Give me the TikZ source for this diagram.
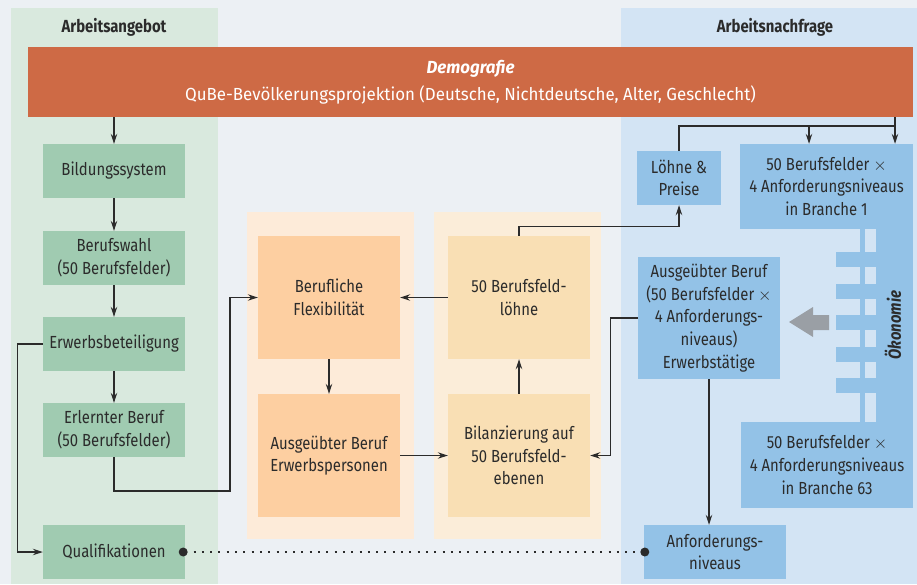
\documentclass[tikz,border=0pt]{standalone}
\usepackage{fontspec}
\setmainfont{Fira Sans}[FakeStretch=0.85]
\newfontfamily\balkenfont{Fira Sans}[FakeStretch=0.965]
\usepackage{tikz}
\usetikzlibrary{arrows.meta}

\definecolor{hgrund}{HTML}{ECF0F4}
\definecolor{gruenfeld}{HTML}{D9E9DE}
\definecolor{gruenbox}{HTML}{A0CBB1}
\definecolor{blaufeld}{HTML}{D3E4F4}
\definecolor{blaubox}{HTML}{93C2E7}
\definecolor{demo}{HTML}{CE6A45}
\definecolor{orafeld}{HTML}{FDEBD9}
\definecolor{orabox}{HTML}{FDCFA1}
\definecolor{gelbfeld}{HTML}{FBEDD9}
\definecolor{gelbbox}{HTML}{F9DFB4}
\definecolor{schrift}{HTML}{2B2B2B}
\definecolor{graupfeil}{HTML}{9A9FA5}

\newcommand{\mal}{\ensuremath{\times}}

\begin{document}
\begin{tikzpicture}[x=1pt, y=-1pt]
	\tikzstyle{every node}=[font=\fontsize{17.5}{22.7}\selectfont, text=schrift, inner sep=0pt, align=center]
	\tikzstyle{gruen}=[fill=gruenbox, minimum width=142pt, minimum height=54pt]
	\tikzstyle{orange}=[fill=orabox, minimum width=142pt, minimum height=123pt]
	\tikzstyle{gelb}=[fill=gelbbox, minimum width=142pt, minimum height=123pt]
	\tikzstyle{blau}=[fill=blaubox]
	\tikzstyle{pfeil}=[-{Stealth[length=10pt,width=6.5pt]}, line width=1.1pt, draw=schrift]
	\tikzstyle{linie}=[line width=1.1pt, draw=schrift]

	%Hintergrund und Spalten
	\fill[hgrund] (0,0) rectangle (917,584);
	\useasboundingbox (0,0) rectangle (917,584);
	\fill[gruenfeld] (11,8) rectangle (218,584);
	\fill[blaufeld] (621,8) rectangle (917,584);
	\fill[orafeld] (247,212) rectangle (414,539);
	\fill[gelbfeld] (434,212) rectangle (601,539);
	\node[font=\fontsize{17.5}{20}\selectfont\bfseries] (angebot) at (114,27) {Arbeitsangebot};
	\node[font=\fontsize{17.5}{20}\selectfont\bfseries] (nachfrage) at (775,27) {Arbeitsnachfrage};

	%Demografie-Balken
	\node[fill=demo, minimum width=885pt, minimum height=70pt, text=white, font=\fontsize{17.5}{22.7}\selectfont\balkenfont] (demo) at (470.5,82) {{\bfseries\itshape Demografie}\\[4pt]QuBe-Bevölkerungsprojektion (Deutsche, Nichtdeutsche, Alter, Geschlecht)};

	%Angebotsseite
	\node[gruen] (bild) at (114,171) {Bildungssystem};
	\node[gruen] (wahl) at (114,258) {Berufswahl\\(50 Berufsfelder)};
	\node[gruen] (erwerb) at (114,344) {Erwerbsbeteiligung};
	\node[gruen] (erlernt) at (114,430) {Erlernter Beruf\\(50 Berufsfelder)};
	\node[gruen] (quali) at (114,552) {Qualifikationen};

	%Mitte
	\node[orange] (flex) at (329,297.5) {Berufliche\\Flexibilität};
	\node[orange] (person) at (329,455.5) {Ausgeübter Beruf\\Erwerbspersonen};
	\node[gelb] (loehne) at (519,297.5) {50 Berufsfeld-\\löhne};
	\node[gelb] (bilanz) at (519,455.5) {Bilanzierung auf\\50 Berufsfeld-\\ebenen};

	%Nachfrageseite
	\node[blau, minimum width=84pt, minimum height=54pt] (preise) at (679,178) {Löhne \&\\Preise};
	\node[blau, minimum width=173pt, minimum height=85pt] (br1) at (826.5,186.5) {50 Berufsfelder \mal\\4 Anforderungsniveaus\\in Branche 1};
	\node[blau, minimum width=172pt, minimum height=86pt] (br63) at (827,465) {50 Berufsfelder \mal\\4 Anforderungsniveaus\\in Branche 63};
	\node[blau, minimum width=142pt, minimum height=122pt] (taetig) at (709,318) {Ausgeübter Beruf\\(50 Berufsfelder \mal\\4 Anforderungs-\\niveaus)\\Erwerbstätige};
	\node[blau, minimum width=142pt, minimum height=54pt] (anf) at (715,552) {Anforderungs-\\niveaus};

	%Oekonomie-Kamm
	\fill[blaubox] (876,229) rectangle (913,422);
	\fill[blaubox] (860,229) rectangle (865,422);
	\foreach \y in {252,283.5,315,346.5,378}
		\fill[blaubox] (836,\y) rectangle (876,\y+15);
	\node[font=\fontsize{17.5}{20}\selectfont\bfseries\itshape, rotate=90] (oeko) at (893,325) {Ökonomie};
	\fill[graupfeil] (789,322) -- (813,307) -- (813,315) -- (829,315) -- (829,330) -- (813,330) -- (813,337) -- cycle;

	%Pfeile links
	\draw[pfeil] (bild.north |- demo.south) -- (bild.north);
	\draw[pfeil] (bild) -- (wahl);
	\draw[pfeil] (wahl) -- (erwerb);
	\draw[pfeil] (erwerb) -- (erlernt);
	\draw[pfeil] (erwerb.west) -- ++(-25,0) |- (quali.west);
	\draw[pfeil] (erlernt.south) |- (230,491) |- (flex.west);

	%Pfeile Mitte
	\draw[pfeil] (flex) -- (person);
	\draw[pfeil] (person) -- (bilanz);
	\draw[pfeil] (bilanz) -- (loehne);
	\draw[pfeil] (loehne) -- (flex);
	\draw[pfeil] (loehne.north) -- ++(0,-9) -| (preise.south);

	%Pfeile rechts
	\coordinate (abzw) at (895,126);
	\coordinate (abzw2) at (809,126);
	\draw[pfeil] (abzw |- demo.south) -- (abzw |- br1.north);
	\draw[linie] (abzw) -| (preise.north);
	\draw[pfeil] (abzw2) -- (abzw2 |- br1.north);
	\draw[pfeil] (taetig.west) -- ++(-27,0) |- (bilanz.east);
	\draw[pfeil] (taetig.south) -- (taetig.south |- anf.north);

	%Punktlinie Qualifikationen
	\draw[schrift, line width=2pt, dash pattern=on 2pt off 6.3pt] (quali.east) -- (anf.west);
	\fill[schrift] (quali.east) ++(-2,0) circle (4.5);
	\fill[schrift] (anf.west) ++(1,0) circle (4.5);
\end{tikzpicture}
\end{document}
